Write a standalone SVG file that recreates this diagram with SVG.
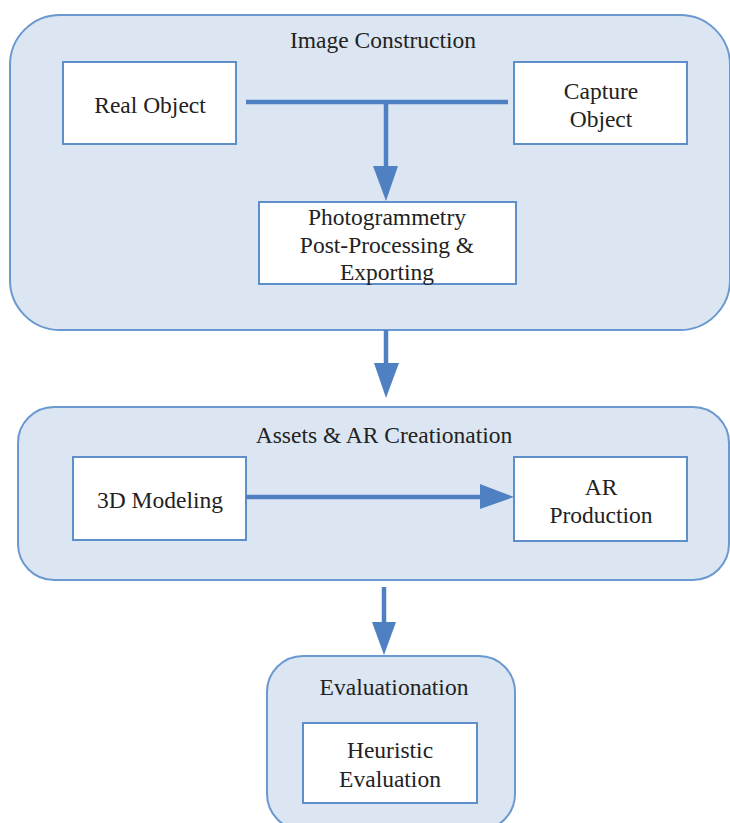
<svg xmlns="http://www.w3.org/2000/svg" width="730" height="823" viewBox="0 0 730 823">
<style>
.container{fill:#dce6f2;stroke:#6a98d0;stroke-width:2}
.box{fill:#ffffff;stroke:#5f8fca;stroke-width:2}
text{font-family:"Liberation Serif","Times New Roman",serif;font-size:23.5px;fill:#222222;text-anchor:middle}
.conn{stroke:#4f80c2;stroke-width:4.5;fill:none}
.head{fill:#4f80c2}
</style>
<rect width="730" height="823" fill="#ffffff"/>
<g id="image-construction">
<rect class="container" x="10" y="15" width="720" height="315" rx="50" ry="50"/>
<text x="383" y="48">Image Construction</text>
</g>
<g id="assets-ar">
<rect class="container" x="18" y="407" width="711" height="173" rx="36" ry="36"/>
<text x="384" y="443">Assets &amp; AR Creationation</text>
</g>
<g id="evaluationation">
<rect class="container" x="267" y="656" width="248" height="174" rx="36" ry="36"/>
<text x="394" y="695">Evaluationation</text>
</g>
<g id="real-object">
<rect class="box" x="63" y="62" width="173" height="82"/>
<text x="150" y="113">Real Object</text>
</g>
<g id="capture-object">
<rect class="box" x="514" y="62" width="173" height="82"/>
<text x="601" y="99">Capture</text>
<text x="601" y="127">Object</text>
</g>
<g id="photogrammetry">
<rect class="box" x="259" y="202" width="257" height="82"/>
<text x="387" y="225">Photogrammetry</text>
<text x="387" y="253">Post-Processing &amp;</text>
<text x="387" y="280">Exporting</text>
</g>
<g id="modeling">
<rect class="box" x="73" y="457" width="173" height="83"/>
<text x="160" y="508">3D Modeling</text>
</g>
<g id="ar-production">
<rect class="box" x="514" y="457" width="173" height="84"/>
<text x="601" y="495">AR</text>
<text x="601" y="523">Production</text>
</g>
<g id="heuristic">
<rect class="box" x="303" y="723" width="174" height="80"/>
<text x="390" y="758">Heuristic</text>
<text x="390" y="787">Evaluation</text>
</g>
<g id="connectors">
<line class="conn" x1="246" y1="102" x2="508" y2="102"/>
<line class="conn" x1="386" y1="102" x2="386" y2="168"/>
<polygon class="head" points="373,166 398,166 386,201"/>
<line class="conn" x1="386" y1="330" x2="386" y2="365"/>
<polygon class="head" points="374,363 399,363 386,398"/>
<line class="conn" x1="246" y1="497" x2="482" y2="497"/>
<polygon class="head" points="480,484 480,509 514,497"/>
<line class="conn" x1="384" y1="587" x2="384" y2="624"/>
<polygon class="head" points="372,622 396,622 384,655"/>
</g>
</svg>
